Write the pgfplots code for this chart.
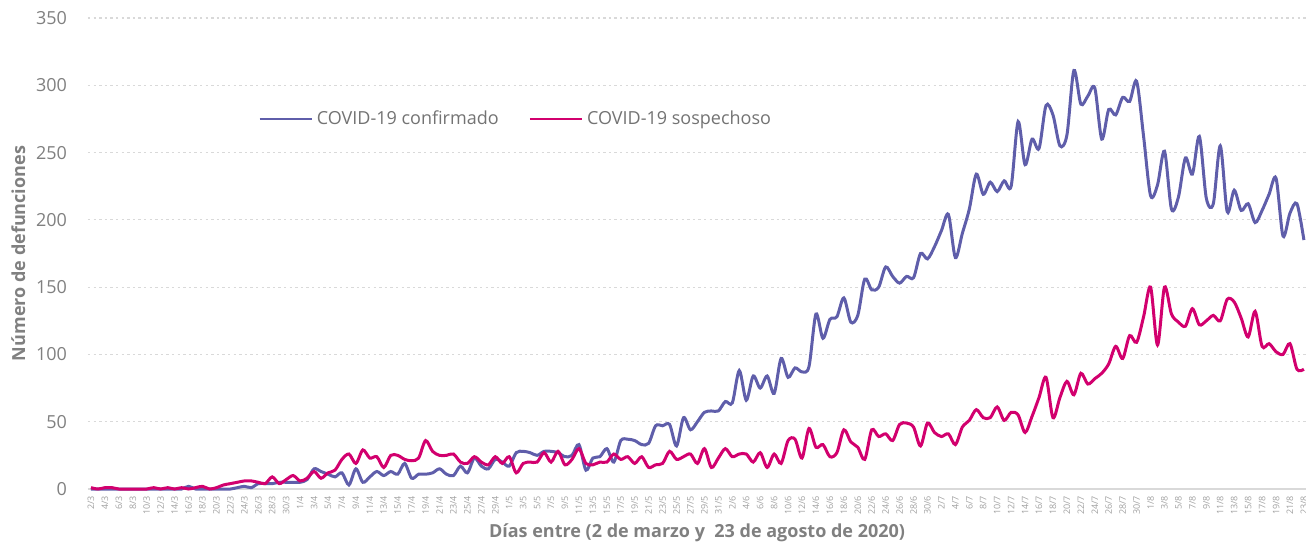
\documentclass[border=0pt]{standalone}
\usepackage{fontspec}
\setmainfont{Open Sans}
\usepackage{pgfplots}
\usepackage{pgfplotstable}
\pgfplotsset{compat=1.18}
\definecolor{conf}{RGB}{95,94,170}
\definecolor{susp}{RGB}{210,0,110}
\definecolor{txt}{RGB}{128,128,128}
\definecolor{grd}{RGB}{217,217,217}

\pgfplotstableread{
d c s
0 0 1
1 0 0
2 0 1
3 0 1
4 0 0
5 0 0
6 0 0
7 0 0
8 0 0
9 0 1
10 0 0
11 0 1
12 0 0
13 0 1
14 2 0
15 0 1
16 0 2
17 0 0
18 0 1
19 0 3
20 0 4
21 1 5
22 2 6
23 1 6
24 4 5
25 4 4
26 4 9
27 5 4
28 5 7
29 5 10
30 5 6
31 7 8
32 15 13
33 13 8
34 11 12
35 9 14
36 12 22
37 3 26
38 15 19
39 5 29
40 9 23
41 13 24
42 10 16
43 13 25
44 11 25
45 19 22
46 8 21
47 11 23
48 11 36
49 12 28
50 15 25
51 11 25
52 10 26
53 17 20
54 12 19
55 23 24
56 17 20
57 15 18
58 22 24
59 20 19
60 17 24
61 27 12
62 28 19
63 27 20
64 25 20
65 28 27
66 28 20
67 27 28
68 24 18
69 25 22
70 33 30
71 14 19
72 23 18
73 24 20
74 30 20
75 20 26
76 36 22
77 37 24
78 36 19
79 33 24
80 34 16
81 47 18
82 47 19
83 48 28
84 32 22
85 53 24
86 44 26
87 50 19
88 57 30
89 58 16
90 58 23
91 65 30
92 64 24
93 88 26
94 66 26
95 84 20
96 75 27
97 84 16
98 71 26
99 97 19
100 83 36
101 90 37
102 87 23
103 91 45
104 130 31
105 112 33
106 126 24
107 128 27
108 142 44
109 124 35
110 129 31
111 156 22
112 148 44
113 150 39
114 165 41
115 158 36
116 153 48
117 158 49
118 157 46
119 175 32
120 171 49
121 180 42
122 192 39
123 204 41
124 172 33
125 190 46
126 208 51
127 234 59
128 219 53
129 228 53
130 221 61
131 229 51
132 225 57
133 273 55
134 241 42
135 260 54
136 253 68
137 285 83
138 278 53
139 255 68
140 263 80
141 311 70
142 286 86
143 292 78
144 298 82
145 260 86
146 282 93
147 278 106
148 291 97
149 288 114
150 303 109
151 262 128
152 218 150
153 226 107
154 251 150
155 208 130
156 217 124
157 246 121
158 234 134
159 262 122
160 216 125
161 212 129
162 255 125
163 206 141
164 222 139
165 207 127
166 212 113
167 198 132
168 207 106
169 219 108
170 231 102
171 188 100
172 205 108
173 212 89
174 185 89
}\data

\begin{document}
\begin{tikzpicture}
\begin{axis}[
  scale only axis, width=609pt, height=235.5pt,
  xmin=-0.43, xmax=174.3, ymin=0, ymax=350,
  ytick={0,50,...,350},
  xtick={0,2,...,174},
  xticklabels={2/3,4/3,6/3,8/3,10/3,12/3,14/3,16/3,18/3,20/3,22/3,24/3,26/3,28/3,30/3,1/4,3/4,5/4,7/4,9/4,11/4,13/4,15/4,17/4,19/4,21/4,23/4,25/4,27/4,29/4,1/5,3/5,5/5,7/5,9/5,11/5,13/5,15/5,17/5,19/5,21/5,23/5,25/5,27/5,29/5,31/5,2/6,4/6,6/6,8/6,10/6,12/6,14/6,16/6,18/6,20/6,22/6,24/6,26/6,28/6,30/6,2/7,4/7,6/7,8/7,10/7,12/7,14/7,16/7,18/7,20/7,22/7,24/7,26/7,28/7,30/7,1/8,3/8,5/8,7/8,9/8,11/8,13/8,15/8,17/8,19/8,21/8,23/8},
  axis line style={draw=none},
  major tick length=0pt,
  ymajorgrids,
  grid style={grd, line width=0.6pt, dash pattern=on 1.2pt off 1.6pt},
  extra y ticks={0}, extra y tick labels={},
  extra y tick style={grid style={solid, grd, line width=1.2pt}},
  /pgf/number format/assume math mode=true,
  yticklabel style={font=\fontsize{9}{10}\selectfont, text=txt, xshift=-7pt},
  xticklabel style={font=\fontsize{4.5}{5}\selectfont, text=txt!75, rotate=90, anchor=east},
  ylabel={Número de defunciones},
  xlabel={Días entre (2 de marzo y\ \ 23 de agosto de 2020)},
  label style={font=\bfseries\fontsize{9}{10}\selectfont, text=txt},
  ylabel shift=-1.5pt,
  xlabel style={at={(axis description cs:0.5,0)}, anchor=north, yshift=-14pt},
  clip=false,
  legend columns=2,
  legend style={at={(rel axis cs:0.1396,0.786)}, anchor=west, draw=none, fill=none,
    inner sep=0pt, font=\fontsize{9}{10}\selectfont, text=txt!90!black,
    /tikz/every even column/.append style={column sep=13pt}},
  legend image code/.code={\draw[#1, line width=1.2pt] (0pt,0pt) -- (26pt,0pt);},
]
\addplot[conf, line width=1.5pt, smooth, tension=0.5] table[x=d, y=c] {\data};
\addlegendentry{COVID-19 confirmado}
\addplot[susp, line width=1.5pt, smooth, tension=0.5] table[x=d, y=s] {\data};
\addlegendentry{COVID-19 sospechoso}
\coordinate (bl) at (rel axis cs:0,0);
\coordinate (tr) at (rel axis cs:1,1);
\end{axis}
\pgfresetboundingbox
\path[use as bounding box] ([shift={(-44pt,-26.5pt)}]bl) rectangle ([shift={(0pt,9pt)}]tr);
\end{tikzpicture}
\end{document}
